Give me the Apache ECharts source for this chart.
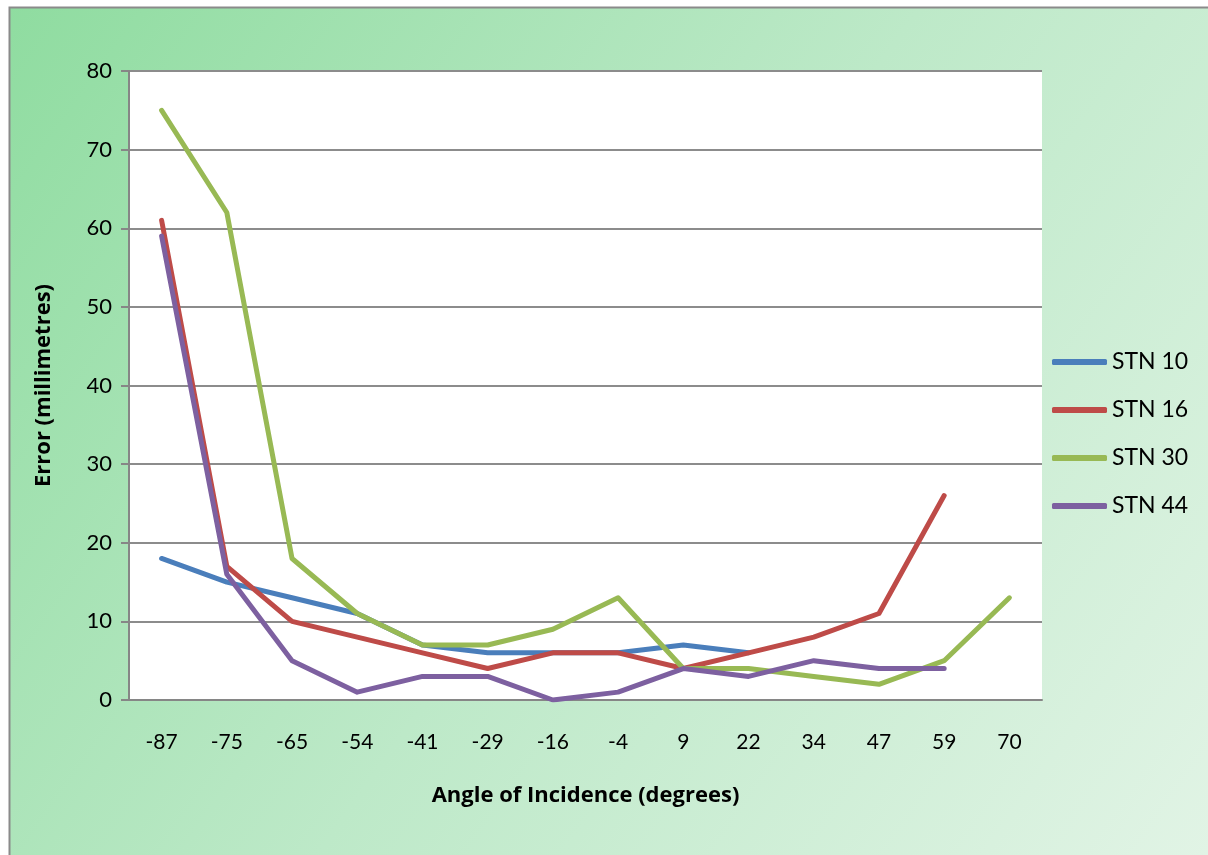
<!DOCTYPE html>
<html>
<head>
<meta charset="utf-8">
<script src="https://cdn.jsdelivr.net/npm/echarts@6/dist/echarts.min.js"></script>
<style>
  html, body { margin: 0; padding: 0; background: #ffffff; }
  #chart { width: 1208px; height: 855px; }
</style>
</head>
<body>
<div id="chart"></div>
<script>
// Angle of incidence categories (degrees)
const angles = ['-87', '-75', '-65', '-54', '-41', '-29', '-16', '-4', '9', '22', '34', '47', '59', '70'];

// Error in millimetres per station (null = no reading)
const stn10 = [18, 15, 13, 11, 7, 6, 6, 6, 7, 6, null, null, null, null];
const stn16 = [61, 17, 10, 8, 6, 4, 6, 6, 4, 6, 8, 11, 26, null];
const stn30 = [75, 62, 18, 11, 7, 7, 9, 13, 4, 4, 3, 2, 5, 13];
const stn44 = [59, 16, 5, 1, 3, 3, 0, 1, 4, 3, 5, 4, 4, null];

const seriesNames = ['STN 10', 'STN 16', 'STN 30', 'STN 44'];
const seriesData = [stn10, stn16, stn30, stn44];
const seriesColors = ['#4a7ebb', '#be4b48', '#98b954', '#7d60a0'];

const FONT = 'Lato, sans-serif';
const TITLE_FONT = '"Open Sans", sans-serif';

const chart = echarts.init(document.getElementById('chart'), null, { renderer: 'canvas' });

chart.setOption({
  animation: false,
  backgroundColor: '#ffffff',
  color: seriesColors,
  graphic: [{
    type: 'rect',
    z: -10,
    silent: true,
    shape: { x: 9.5, y: 7.5, width: 1210, height: 860 },
    style: {
      fill: new echarts.graphic.LinearGradient(0, 0, 1, 1, [
        { offset: 0, color: '#8fdca0' },
        { offset: 0.5, color: '#bde9c8' },
        { offset: 1, color: '#e2f4e6' }
      ]),
      stroke: '#8a8a8a',
      lineWidth: 2
    }
  }],
  grid: {
    left: 129,
    top: 71,
    right: 166,
    bottom: 155,
    show: true,
    backgroundColor: '#ffffff',
    borderWidth: 0
  },
  legend: {
    orient: 'vertical',
    left: 1052,
    top: 349,
    padding: 0,
    itemWidth: 55,
    itemHeight: 6,
    itemGap: 22,
    icon: 'roundRect',
    data: seriesNames,
    textStyle: { fontFamily: FONT, fontSize: 23, color: '#000', lineHeight: 26 }
  },
  xAxis: {
    type: 'category',
    data: angles,
    boundaryGap: true,
    name: 'Angle of Incidence (degrees)',
    nameLocation: 'middle',
    nameGap: 85,
    nameTextStyle: { fontFamily: TITLE_FONT, fontSize: 22, fontWeight: 'bold', color: '#000' },
    axisLine: { show: true, lineStyle: { color: '#868686', width: 2 } },
    axisTick: { show: false },
    axisLabel: { fontFamily: FONT, fontSize: 21, color: '#000', margin: 32 },
    splitLine: { show: false }
  },
  yAxis: {
    type: 'value',
    min: 0,
    max: 80,
    interval: 10,
    name: 'Error (millimetres)',
    nameLocation: 'middle',
    nameGap: 74,
    nameTextStyle: { fontFamily: TITLE_FONT, fontSize: 22, fontWeight: 'bold', color: '#000' },
    axisLine: { show: true, lineStyle: { color: '#868686', width: 2 } },
    axisTick: { show: true, length: 8, lineStyle: { color: '#868686', width: 2 } },
    axisLabel: { fontFamily: FONT, fontSize: 22, color: '#000', margin: 17 },
    splitLine: { show: true, lineStyle: { color: '#8c8c8c', width: 2 } }
  },
  series: seriesNames.map((name, i) => ({
    name: name,
    type: 'line',
    data: seriesData[i],
    symbol: 'none',
    connectNulls: false,
    lineStyle: { width: 5, color: seriesColors[i], cap: 'round', join: 'round' },
    itemStyle: { color: seriesColors[i] }
  }))
});
</script>
</body>
</html>
